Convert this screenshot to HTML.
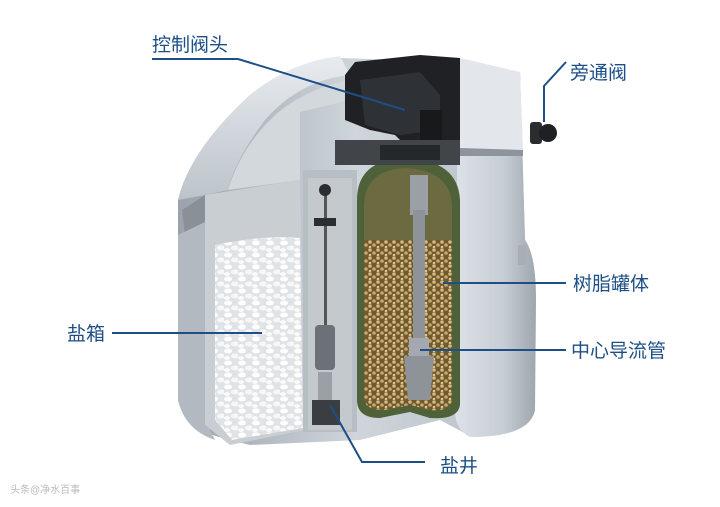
<!DOCTYPE html>
<html><head><meta charset="utf-8"><style>
html,body{margin:0;padding:0;background:#fff;}
svg{display:block;}
text{font-family:"Liberation Sans","Noto Sans CJK SC",sans-serif;fill:#1d4f86;font-size:19px;}
</style></head><body>
<svg width="720" height="507" viewBox="0 0 720 507" xmlns="http://www.w3.org/2000/svg">
<defs>
<linearGradient id="hs" x1="0" x2="1"><stop offset="0" stop-color="#9aa2ab"/><stop offset="0.5" stop-color="#cfd5db"/><stop offset="1" stop-color="#b5bcc4"/></linearGradient>
<linearGradient id="rs" x1="0" x2="1"><stop offset="0" stop-color="#dde2e7"/><stop offset="0.6" stop-color="#c7cdd4"/><stop offset="1" stop-color="#9ea6ae"/></linearGradient>
<linearGradient id="top" x1="0" y1="0" x2="0" y2="1"><stop offset="0" stop-color="#e8ecf0"/><stop offset="1" stop-color="#bcc3ca"/></linearGradient>
<pattern id="salt" width="14" height="12" patternUnits="userSpaceOnUse">
<rect width="14" height="12" fill="#dfe3e6"/>
<ellipse cx="4" cy="3" rx="4" ry="2.5" fill="#fff"/><ellipse cx="11" cy="8" rx="4" ry="2.5" fill="#f6f7f8"/><ellipse cx="3" cy="10" rx="3" ry="2" fill="#fafafa"/>
</pattern>
<pattern id="resin" width="8" height="8" patternUnits="userSpaceOnUse">
<rect width="8" height="8" fill="#6e5a32"/>
<circle cx="2" cy="2" r="1.8" fill="#d6b77c"/><circle cx="6" cy="5" r="1.8" fill="#c9a766"/><circle cx="2" cy="7" r="1.3" fill="#e0c48c"/>
</pattern>
</defs>
<!-- housing back -->
<path d="M178,200 Q190,150 250,95 Q290,65 340,58 L460,62 L520,72 L525,240 Q535,255 535,300 L535,410 Q530,435 470,436 L440,420 L360,440 L250,445 L230,440 Q185,430 178,400 Z" fill="url(#hs)"/>
<!-- top curved shell -->
<path d="M178,200 Q190,150 250,95 Q290,62 340,56 L350,75 Q300,80 265,120 Q235,160 228,190 L205,195 Z" fill="url(#top)"/>
<path d="M182,210 L205,195 L230,195 L230,225 L205,222 L185,235 Z" fill="#8a9098"/>
<!-- left outer wall -->
<path d="M178,235 L205,222 L205,420 L215,440 Q185,430 178,400 Z" fill="#b2b9c1"/>
<!-- salt chamber -->
<path d="M205,195 L300,180 L305,430 L230,445 L205,425 Z" fill="#c9ced3"/>
<path d="M215,245 Q260,235 300,238 L303,428 L232,440 L215,420 Z" fill="url(#salt)"/>
<!-- inner top shell band -->
<path d="M228,190 Q240,150 270,120 Q300,90 350,80 L350,100 L300,112 L300,180 Z" fill="#d3d8dd"/>
<!-- salt well -->
<rect x="303" y="170" width="54" height="262" fill="#b8bec5"/>
<rect x="308" y="178" width="44" height="252" fill="#c4c9ce"/>
<rect x="324" y="190" width="3" height="150" fill="#555"/>
<circle cx="325" cy="190" r="6" fill="#2a2d31"/>
<rect x="314" y="218" width="22" height="8" fill="#2a2d31"/>
<rect x="315" y="325" width="20" height="45" rx="4" fill="#6c7178"/>
<rect x="318" y="372" width="14" height="30" fill="#9aa0a6"/>
<rect x="312" y="400" width="28" height="25" fill="#3a3d42"/>
<!-- right housing -->
<path d="M458,70 L520,72 L525,240 Q536,255 536,300 L535,410 Q530,437 470,437 Q455,430 455,410 Z" fill="url(#rs)"/>
<rect x="458" y="148" width="65" height="8" fill="#8d949b"/>
<rect x="518" y="245" width="8" height="20" fill="#a8aeb5"/>
<!-- tank -->
<path d="M357,200 Q357,160 405,158 Q458,160 460,200 L460,405 Q458,420 430,418 L410,412 L380,418 Q357,418 357,400 Z" fill="#4e6139"/>
<path d="M364,205 Q365,170 405,168 Q450,170 452,205 L452,400 Q450,412 430,410 L410,405 L385,410 Q364,410 364,398 Z" fill="#6c6a40"/>
<path d="M364,240 L452,240 L452,400 Q450,412 430,410 L410,405 L385,410 Q364,410 364,398 Z" fill="url(#resin)"/>
<!-- center pipe -->
<rect x="410" y="175" width="18" height="40" fill="#9aa0a5"/>
<rect x="413" y="210" width="12" height="130" fill="#8d9398"/>
<rect x="409" y="338" width="20" height="18" fill="#a3a9ae"/>
<path d="M404,356 L434,356 L430,400 L408,400 Z" fill="#8d9398"/>
<!-- control head -->
<path d="M345,75 L355,62 L420,55 L460,58 L460,140 L440,150 L410,150 L395,135 L370,130 L345,120 Z" fill="#1f2124"/>
<path d="M360,80 L420,72 L440,95 L440,130 L400,135 L365,125 Z" fill="#2e3135"/>
<rect x="420" y="110" width="22" height="40" fill="#17191b"/>
<path d="M335,140 L460,140 L460,165 L335,165 Z" fill="#41454a"/>
<rect x="380" y="145" width="60" height="15" fill="#25282b"/>
<!-- top right shell -->
<path d="M460,58 L520,72 L523,150 L460,148 Z" fill="#e3e7eb"/>
<!-- bypass valve -->
<rect x="530" y="122" width="12" height="22" rx="3" fill="#2a2c2f"/>
<circle cx="548" cy="133" r="9" fill="#1e2023"/>
<!-- labels -->
<g stroke="#1d4f86" stroke-width="2" fill="none">
<path d="M152,59 L238,59 L405,110"/>
<path d="M566,62 L544,86 L544,122"/>
<path d="M443,283 L566,283"/>
<path d="M420,350 L566,350"/>
<path d="M112,333 L262,333"/>
<path d="M330,405 L362,462 L425,462"/>
</g>
<text x="152" y="51">控制阀头</text>
<text x="570" y="79">旁通阀</text>
<text x="573" y="290">树脂罐体</text>
<text x="571" y="357">中心导流管</text>
<text x="67" y="340">盐箱</text>
<text x="440" y="472">盐井</text>
<text x="10" y="493" style="font-size:10px;fill:#bbb">头条@净水百事</text>
</svg>
</body></html>
